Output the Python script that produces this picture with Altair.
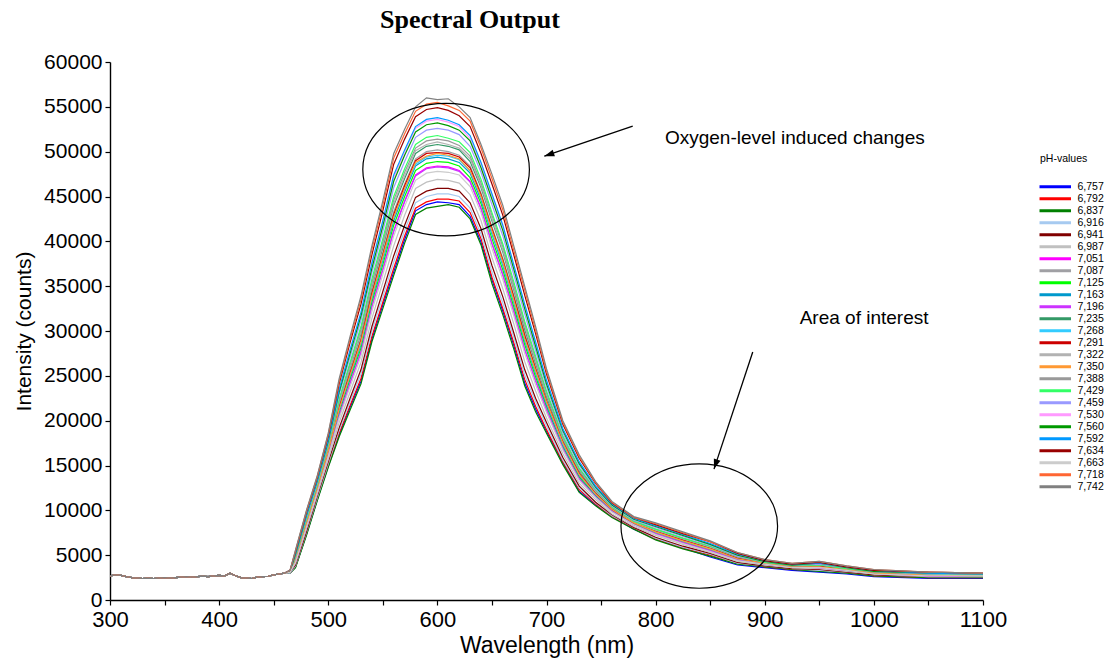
import altair as alt
import pandas as pd

# ---------------- data (intensity values in thousands of counts) ----------------
PH_VALUES = ["6,757", "6,792", "6,837", "6,916", "6,941", "6,987", "7,051", "7,087",
             "7,125", "7,163", "7,196", "7,235", "7,268", "7,291", "7,322", "7,350",
             "7,388", "7,429", "7,459", "7,530", "7,560", "7,592", "7,634", "7,663",
             "7,718", "7,742"]
LINE_COLORS = ["#0000FF", "#FF0000", "#008000", "#A6CAF0", "#800000", "#C0C0C0", "#FF00FF", "#A0A0A4",
               "#00FF00", "#0099CC", "#CC33FF", "#339966", "#33CCFF", "#CC0000", "#B2B2B2", "#FF9933",
               "#999999", "#33FF66", "#9999FF", "#FF99FF", "#009900", "#0099FF", "#990000", "#CCCCCC",
               "#FF6633", "#808080"]

# shared flat baseline (all spectra overlap here)
BASE_NM = [300, 305, 310, 315, 320, 325, 330, 335, 340, 345, 350, 355, 360, 365, 370, 375, 380,
           385, 390, 395, 400, 405, 410, 415, 420, 425, 430, 435, 440, 445, 450, 455, 460]
BASE_K = [2.7, 2.8, 2.75, 2.6, 2.5, 2.45, 2.4, 2.45, 2.4, 2.45, 2.5, 2.45, 2.5, 2.55, 2.6, 2.55, 2.6,
          2.65, 2.6, 2.7, 2.75, 2.7, 3.0, 2.7, 2.5, 2.45, 2.4, 2.55, 2.6, 2.65, 2.8, 2.9, 3.0]

MAIN_NM = [465, 470, 480, 490, 500, 510, 520, 530, 540, 550, 560, 570, 580, 590, 600, 610, 620,
           630, 640, 650, 660, 670, 680, 690, 700, 715, 730, 745, 760, 780, 800, 825, 850, 875,
           900, 925, 950, 975, 1000, 1050, 1100]

PH_6757 = [3.0, 3.7, 7.3, 11.2, 14.9, 18.4, 21.5, 24.4, 29.1, 32.9, 36.6, 40.2, 43.4, 44.1, 44.4, 44.3, 44.1,
           42.8, 39.9, 35.7, 32.2, 28.4, 24.2, 21.3, 18.8, 15.3, 12.1, 10.6, 9.3, 7.9, 6.8, 5.8, 4.8, 3.9,
           3.6, 3.3, 3.1, 2.9, 2.6, 2.4, 2.4]
PH_6792 = [3.0, 3.7, 7.4, 11.3, 15.0, 18.6, 21.7, 24.7, 29.4, 33.2, 37.0, 40.6, 43.7, 44.4, 44.7, 44.7, 44.5,
           43.2, 40.3, 36.0, 32.5, 28.7, 24.6, 21.6, 19.0, 15.4, 12.3, 10.7, 9.3, 8.0, 6.8, 5.8, 5.0, 4.1,
           3.7, 3.4, 3.3, 3.1, 2.7, 2.5, 2.5]
PH_6837 = [3.0, 3.6, 7.2, 11.1, 14.8, 18.2, 21.2, 24.1, 28.8, 32.5, 36.2, 39.8, 43.0, 43.7, 43.9, 44.1, 43.8,
           42.5, 39.6, 35.3, 31.8, 28.0, 23.9, 21.0, 18.6, 15.1, 12.0, 10.5, 9.2, 7.9, 6.7, 5.7, 4.9, 4.0,
           3.7, 3.4, 3.2, 3.0, 2.7, 2.5, 2.5]
PH_6916 = [3.0, 3.8, 7.5, 11.4, 15.2, 18.9, 22.1, 25.2, 30.0, 33.8, 37.7, 41.2, 44.3, 45.0, 45.3, 45.3, 45.0,
           43.7, 40.8, 36.6, 33.1, 29.3, 25.1, 22.1, 19.4, 15.6, 12.5, 10.8, 9.4, 8.1, 6.9, 5.9, 5.1, 4.1,
           3.8, 3.5, 3.3, 3.1, 2.8, 2.6, 2.6]
PH_6941 = [3.1, 3.9, 7.6, 11.6, 15.4, 19.2, 22.5, 25.7, 30.5, 34.4, 38.4, 41.8, 44.9, 45.6, 45.9, 45.9, 45.6,
           44.3, 41.4, 37.3, 33.8, 29.8, 25.7, 22.5, 19.8, 15.9, 12.7, 10.9, 9.5, 8.1, 7.0, 6.0, 5.2, 4.2,
           3.8, 3.5, 3.4, 3.1, 2.8, 2.6, 2.6]
PH_6987 = [3.1, 4.1, 7.9, 11.8, 15.7, 19.8, 23.2, 26.5, 31.4, 35.4, 39.5, 42.9, 45.9, 46.6, 46.9, 46.8, 46.5,
           45.2, 42.3, 38.2, 34.7, 30.8, 26.6, 23.3, 20.3, 16.3, 13.0, 11.2, 9.6, 8.2, 7.2, 6.2, 5.3, 4.3,
           3.9, 3.6, 3.5, 3.2, 2.9, 2.6, 2.6]
PH_7051 = [3.1, 4.3, 8.2, 12.1, 16.2, 20.6, 24.2, 27.7, 32.8, 36.9, 41.2, 44.5, 47.4, 48.2, 48.4, 48.3, 47.9,
           46.7, 43.7, 39.8, 36.3, 32.3, 28.0, 24.5, 21.3, 16.9, 13.6, 11.5, 9.9, 8.4, 7.4, 6.4, 5.5, 4.5,
           4.0, 3.7, 3.6, 3.3, 3.0, 2.7, 2.7]
PH_7087 = [3.2, 4.6, 8.7, 12.6, 16.8, 21.6, 25.5, 29.2, 34.4, 38.7, 43.3, 46.4, 49.2, 50.0, 50.2, 50.0, 49.6,
           48.4, 45.4, 41.6, 38.1, 34.0, 29.7, 25.9, 22.3, 17.7, 14.2, 11.9, 10.1, 8.6, 7.7, 6.7, 5.8, 4.7,
           4.1, 3.8, 3.8, 3.4, 3.1, 2.8, 2.8]
PH_7125 = [3.1, 4.4, 8.4, 12.3, 16.4, 20.9, 24.6, 28.1, 33.2, 37.4, 41.8, 45.0, 47.9, 48.7, 48.9, 48.8, 48.4,
           47.1, 44.2, 40.3, 36.8, 32.7, 28.5, 24.9, 21.6, 17.1, 13.7, 11.6, 9.9, 8.5, 7.5, 6.5, 5.6, 4.5,
           4.0, 3.7, 3.7, 3.3, 3.0, 2.8, 2.7]
PH_7163 = [3.1, 4.5, 8.5, 12.4, 16.5, 21.1, 24.9, 28.5, 33.6, 37.9, 42.3, 45.5, 48.4, 49.2, 49.4, 49.2, 48.8,
           47.6, 44.6, 40.8, 37.3, 33.2, 28.9, 25.3, 21.8, 17.3, 13.9, 11.7, 10.0, 8.5, 7.6, 6.6, 5.7, 4.6,
           4.1, 3.7, 3.7, 3.4, 3.0, 2.8, 2.7]
PH_7196 = [3.1, 4.3, 8.2, 12.1, 16.2, 20.5, 24.2, 27.6, 32.7, 36.8, 41.1, 44.4, 47.3, 48.1, 48.3, 48.2, 47.8,
           46.6, 43.6, 39.7, 36.2, 32.1, 27.9, 24.4, 21.2, 16.9, 13.5, 11.5, 9.9, 8.4, 7.4, 6.4, 5.5, 4.5,
           4.0, 3.7, 3.6, 3.3, 3.0, 2.7, 2.7]
PH_7235 = [3.2, 4.7, 8.8, 12.7, 17.0, 21.9, 25.9, 29.7, 34.9, 39.3, 44.0, 47.0, 49.8, 50.6, 50.8, 50.6, 50.2,
           48.9, 46.0, 42.3, 38.8, 34.6, 30.2, 26.4, 22.7, 17.9, 14.4, 12.0, 10.2, 8.7, 7.8, 6.8, 5.9, 4.7,
           4.2, 3.8, 3.8, 3.5, 3.1, 2.8, 2.8]
PH_7268 = [3.1, 4.5, 8.5, 12.4, 16.6, 21.3, 25.1, 28.7, 33.8, 38.1, 42.6, 45.8, 48.6, 49.4, 49.6, 49.5, 49.1,
           47.8, 44.9, 41.0, 37.5, 33.4, 29.1, 25.5, 22.0, 17.4, 14.0, 11.8, 10.1, 8.6, 7.6, 6.6, 5.7, 4.6,
           4.1, 3.7, 3.7, 3.4, 3.0, 2.8, 2.7]
PH_7291 = [3.2, 4.6, 8.6, 12.5, 16.7, 21.5, 25.3, 29.0, 34.2, 38.5, 43.0, 46.2, 49.0, 49.8, 49.9, 49.8, 49.4,
           48.2, 45.2, 41.4, 37.9, 33.8, 29.5, 25.8, 22.2, 17.6, 14.1, 11.9, 10.1, 8.6, 7.7, 6.7, 5.8, 4.7,
           4.1, 3.8, 3.8, 3.4, 3.1, 2.8, 2.8]
PH_7322 = [3.2, 4.8, 8.9, 12.8, 17.0, 22.0, 26.0, 29.9, 35.1, 39.6, 44.2, 47.3, 50.1, 50.8, 51.1, 50.8, 50.4,
           49.2, 46.2, 42.5, 39.0, 34.8, 30.5, 26.6, 22.9, 18.0, 14.5, 12.1, 10.3, 8.7, 7.8, 6.8, 5.9, 4.8,
           4.2, 3.8, 3.9, 3.5, 3.1, 2.9, 2.8]
PH_7350 = [3.1, 4.6, 8.5, 12.4, 16.6, 21.3, 25.1, 28.8, 33.9, 38.3, 42.7, 45.9, 48.8, 49.5, 49.8, 49.6, 49.2,
           47.9, 45.0, 41.2, 37.7, 33.5, 29.2, 25.6, 22.1, 17.5, 14.0, 11.8, 10.1, 8.6, 7.6, 6.6, 5.7, 4.6,
           4.1, 3.7, 3.7, 3.4, 3.0, 2.8, 2.7]
PH_7388 = [3.2, 4.8, 8.9, 12.8, 17.2, 22.2, 26.3, 30.2, 35.4, 39.9, 44.6, 47.7, 50.4, 51.2, 51.4, 51.2, 50.7,
           49.5, 46.5, 42.9, 39.4, 35.1, 30.8, 26.9, 23.1, 18.1, 14.6, 12.2, 10.3, 8.8, 7.9, 6.9, 6.0, 4.8,
           4.2, 3.8, 3.9, 3.5, 3.1, 2.9, 2.8]
PH_7429 = [3.2, 4.9, 9.0, 12.9, 17.3, 22.4, 26.5, 30.5, 35.8, 40.3, 45.0, 48.1, 50.8, 51.6, 51.8, 51.5, 51.1,
           49.9, 46.9, 43.2, 39.7, 35.5, 31.1, 27.2, 23.3, 18.3, 14.7, 12.3, 10.4, 8.8, 7.9, 6.9, 6.0, 4.9,
           4.2, 3.9, 3.9, 3.5, 3.2, 2.9, 2.8]
PH_7459 = [3.2, 5.0, 9.2, 13.1, 17.5, 22.9, 27.1, 31.2, 36.5, 41.1, 46.0, 48.9, 51.6, 52.4, 52.6, 52.4, 51.9,
           50.6, 47.7, 44.1, 40.6, 36.3, 31.9, 27.8, 23.8, 18.6, 15.0, 12.4, 10.5, 8.9, 8.1, 7.1, 6.1, 4.9,
           4.3, 3.9, 4.0, 3.6, 3.2, 2.9, 2.9]
PH_7530 = [3.2, 5.2, 9.4, 13.3, 17.8, 23.4, 27.8, 31.9, 37.4, 42.1, 47.1, 50.0, 52.6, 53.4, 53.6, 53.3, 52.8,
           51.5, 48.6, 45.1, 41.6, 37.2, 32.8, 28.6, 24.4, 19.0, 15.4, 12.7, 10.6, 9.0, 8.2, 7.2, 6.3, 5.0,
           4.3, 4.0, 4.1, 3.6, 3.3, 3.0, 2.9]
PH_7560 = [3.2, 5.1, 9.4, 13.3, 17.7, 23.2, 27.5, 31.7, 37.0, 41.7, 46.7, 49.6, 52.2, 53.0, 53.2, 52.9, 52.4,
           51.2, 48.2, 44.7, 41.2, 36.9, 32.5, 28.3, 24.1, 18.9, 15.2, 12.6, 10.6, 9.0, 8.2, 7.2, 6.2, 5.0,
           4.3, 3.9, 4.1, 3.6, 3.2, 3.0, 2.9]
PH_7592 = [3.3, 5.2, 9.5, 13.4, 17.9, 23.5, 27.9, 32.1, 37.6, 42.3, 47.4, 50.2, 52.8, 53.6, 53.8, 53.5, 53.0,
           51.8, 48.8, 45.3, 41.8, 37.4, 33.0, 28.8, 24.5, 19.1, 15.4, 12.7, 10.7, 9.1, 8.3, 7.3, 6.3, 5.1,
           4.4, 4.0, 4.1, 3.7, 3.3, 3.0, 2.9]
PH_7634 = [3.3, 5.4, 9.8, 13.7, 18.3, 24.1, 28.7, 33.0, 38.5, 43.4, 48.6, 51.4, 53.9, 54.7, 54.9, 54.6, 54.0,
           52.8, 49.8, 46.4, 42.9, 38.5, 34.0, 29.7, 25.2, 19.6, 15.8, 13.0, 10.8, 9.2, 8.4, 7.4, 6.5, 5.2,
           4.4, 4.0, 4.2, 3.7, 3.3, 3.1, 3.0]
PH_7663 = [3.1, 4.2, 8.1, 12.0, 16.0, 20.3, 23.8, 27.2, 32.2, 36.3, 40.6, 43.9, 46.8, 47.6, 47.8, 47.7, 47.4,
           46.1, 43.2, 39.2, 35.7, 31.7, 27.5, 24.0, 20.9, 16.7, 13.3, 11.4, 9.8, 8.4, 7.3, 6.3, 5.4, 4.4,
           4.0, 3.6, 3.6, 3.3, 2.9, 2.7, 2.7]
PH_7718 = [3.3, 5.5, 9.9, 13.8, 18.5, 24.4, 29.1, 33.5, 39.1, 44.0, 49.3, 52.0, 54.5, 55.3, 55.5, 55.1, 54.6,
           53.4, 50.4, 47.0, 43.5, 39.0, 34.6, 30.1, 25.5, 19.8, 16.0, 13.1, 10.9, 9.2, 8.5, 7.5, 6.5, 5.3,
           4.5, 4.1, 4.3, 3.8, 3.4, 3.1, 3.0]
PH_7742 = [3.3, 5.6, 10.0, 13.9, 18.6, 24.7, 29.4, 33.9, 39.5, 44.5, 49.8, 52.5, 55.0, 56.0, 55.8, 55.9, 55.0,
           53.8, 50.8, 47.5, 44.0, 39.5, 35.0, 30.5, 25.8, 20.0, 16.2, 13.2, 11.0, 9.3, 8.6, 7.6, 6.6, 5.3,
           4.5, 4.1, 4.3, 3.8, 3.4, 3.1, 3.0]

SERIES_VALUES = [PH_6757, PH_6792, PH_6837, PH_6916, PH_6941, PH_6987, PH_7051, PH_7087, PH_7125,
                 PH_7163, PH_7196, PH_7235, PH_7268, PH_7291, PH_7322, PH_7350, PH_7388, PH_7429,
                 PH_7459, PH_7530, PH_7560, PH_7592, PH_7634, PH_7663, PH_7718, PH_7742]

X_TICKS = [300, 350, 400, 450, 500, 550, 600, 650, 700, 750, 800, 850, 900, 950, 1000, 1050, 1100]
Y_TICKS = [0, 2500, 5000, 7500, 10000, 12500, 15000, 17500, 20000, 22500, 25000, 27500, 30000,
           32500, 35000, 37500, 40000, 42500, 45000, 47500, 50000, 52500, 55000, 57500, 60000]

# annotations (data coordinates)
ELLIPSE_NM = [608, 840]
ELLIPSE_COUNTS = [48000, 8250]
ELLIPSE_SIZE = [27756, 24524]
ARROW_TAIL_NM = [779, 889]
ARROW_TAIL_COUNTS = [52850, 27650]
ARROW_HEAD_NM = [698, 853.5]
ARROW_HEAD_COUNTS = [49500, 14600]
ARROW_ANGLE = [251.4, 198.4]
NOTE_NM = [808.5, 932]
NOTE_COUNTS = [51500, 31450]
NOTE_TEXT = ["Oxygen-level induced changes", "Area of interest"]

# ---------------- build tables ----------------
rows = []
for ph, vals in zip(PH_VALUES, SERIES_VALUES):
    if len(vals) != len(MAIN_NM):
        raise ValueError(f"length mismatch for {ph}: {len(vals)}")
    for nm, v in zip(BASE_NM, BASE_K):
        rows.append({"ph": ph, "wl": nm, "counts": v * 1000})
    for nm, v in zip(MAIN_NM, vals):
        rows.append({"ph": ph, "wl": nm, "counts": v * 1000})
df = pd.DataFrame(rows)

ell_df = pd.DataFrame({"wl": ELLIPSE_NM, "counts": ELLIPSE_COUNTS, "size": ELLIPSE_SIZE})
arrow_df = pd.DataFrame({"wl": ARROW_TAIL_NM, "counts": ARROW_TAIL_COUNTS,
                         "wl2": ARROW_HEAD_NM, "counts2": ARROW_HEAD_COUNTS, "angle": ARROW_ANGLE})
note_df = pd.DataFrame({"wl": NOTE_NM, "counts": NOTE_COUNTS, "text": NOTE_TEXT})

FONT = "Liberation Sans"
X_TITLE = "Wavelength (nm)"
Y_TITLE = "Intensity (counts)"

x_axis = alt.Axis(values=X_TICKS, labelExpr="datum.value % 100 === 0 ? datum.label : ''",
                  format="d", labelFlush=False, labelOverlap=False, title=X_TITLE,
                  titlePadding=4, labelPadding=4, labelFontSize=22, titleFontSize=23)
y_axis = alt.Axis(values=Y_TICKS, labelExpr="datum.value % 5000 === 0 ? datum.label : ''",
                  format="d", labelFlush=False, labelOverlap=False, title=Y_TITLE,
                  titlePadding=9, labelPadding=3, labelFontSize=21, titleFontSize=21)

x_enc = alt.X("wl:Q", scale=alt.Scale(domain=[300, 1100], nice=False, zero=False), axis=x_axis)
y_enc = alt.Y("counts:Q", scale=alt.Scale(domain=[0, 60000], nice=False), axis=y_axis)

lines = alt.Chart(df).mark_line(strokeWidth=1.2).encode(
    x=x_enc,
    y=y_enc,
    color=alt.Color("ph:N", sort=PH_VALUES,
                    scale=alt.Scale(domain=PH_VALUES, range=LINE_COLORS),
                    legend=alt.Legend(title="pH-values", orient="none", legendX=930, legendY=92,
                                      symbolType="M-4.5,0L4.5,0", symbolSize=49, symbolStrokeWidth=3,
                                      symbolOffset=10, labelOffset=17, rowPadding=-1.5, padding=0,
                                      titlePadding=17, labelFont=FONT, labelFontSize=10.5,
                                      titleFont=FONT, titleFontSize=10.5, titleFontWeight="normal",
                                      labelColor="black", titleColor="black")),
)

ellipses = alt.Chart(ell_df).mark_point(
    shape="M-1,0A1,0.795,0,1,1,1,0A1,0.795,0,1,1,-1,0Z", filled=False, color="black",
    strokeWidth=1.2, opacity=1
).encode(x=alt.X("wl:Q", title=X_TITLE), y=alt.Y("counts:Q", title=Y_TITLE),
         size=alt.Size("size:Q", scale=None))

shafts = alt.Chart(arrow_df).mark_rule(color="black", strokeWidth=1.3).encode(
    x=alt.X("wl:Q", title=X_TITLE), y=alt.Y("counts:Q", title=Y_TITLE), x2="wl2:Q", y2="counts2:Q")

heads = alt.Chart(arrow_df).mark_point(
    shape="M0,0L-0.7,2L0.7,2Z", filled=True, color="black", size=100, opacity=1
).encode(x=alt.X("wl2:Q", title=X_TITLE), y=alt.Y("counts2:Q", title=Y_TITLE),
         angle=alt.Angle("angle:Q", scale=None))

notes = alt.Chart(note_df).mark_text(align="left", baseline="middle", font=FONT, fontSize=19,
                                     color="black").encode(
    x=alt.X("wl:Q", title=X_TITLE), y=alt.Y("counts:Q", title=Y_TITLE), text="text:N")

chart = alt.layer(lines, ellipses, shafts, heads, notes).properties(
    width=873, height=538,
    padding={"left": 110, "top": 62, "right": 131, "bottom": 61},
    autosize=alt.AutoSizeParams(type="none"),
    title=alt.TitleParams("Spectral Output", anchor="start", frame="group", dx=270, offset=18,
                          font="Liberation Serif", fontSize=26, fontWeight="bold", color="black"),
).configure_view(strokeWidth=0).configure_axis(
    grid=False, domainColor="black", domainWidth=1.4, tickColor="black", tickWidth=1.2, tickSize=5,
    labelFont=FONT, labelColor="black",
    titleFont=FONT, titleFontWeight="normal", titleColor="black",
)

chart.save("out.html", embed_options={"renderer": "svg", "actions": False})
